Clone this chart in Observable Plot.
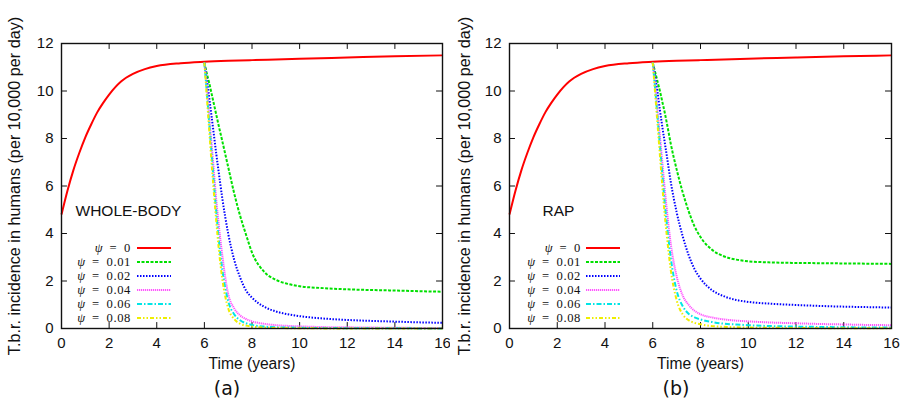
<!DOCTYPE html>
<html>
<head>
<meta charset="utf-8">
<script src="https://cdn.jsdelivr.net/npm/d3@7"></script>
<script src="https://cdn.jsdelivr.net/npm/@observablehq/plot@0.6"></script>
<style>
  html, body { margin: 0; padding: 0; background: #fff; }
  #wrap { position: relative; width: 907px; height: 408px; overflow: hidden; }
  .panel { position: absolute; top: 0; }
  .cap { position: absolute; top: 377px; width: 100px; text-align: center;
         font-family: "DejaVu Sans", sans-serif; font-size: 19px; color: #111; }
  [aria-label="y-axis label"] text { font-size: 16.2px; }
  [aria-label="x-axis label"] text { font-size: 15.6px; }
</style>
</head>
<body>
<div id="wrap">
  <div class="panel" id="pa" style="left:0px"></div>
  <div class="panel" id="pb" style="left:450px"></div>
  <div class="cap" style="left:177px">(a)</div>
  <div class="cap" style="left:626px">(b)</div>
</div>
<script>
// ---------- data ----------
const xTicks = [0, 2, 4, 6, 8, 10, 12, 14, 16];
const yTicks = [0, 2, 4, 6, 8, 10, 12];
const xLabel = "Time (years)";
const yLabel = "T.b.r. incidence in humans (per 10,000 per day)";
const panelNames = ["WHOLE-BODY", "RAP"];
const psiSymbol = "ψ";
const psiValues = ["0", "0.01", "0.02", "0.04", "0.06", "0.08"];

// psi = 0 (no control), same in both panels
const tRed = [0, 0.25, 0.5, 0.75, 1, 1.25, 1.5, 1.75, 2, 2.5, 3, 3.5, 4, 5, 6, 7, 8, 10, 12, 14, 16];
const incPsi0 = [4.8, 5.8, 6.67, 7.4, 8.05, 8.6, 9.1, 9.5, 9.85, 10.4, 10.72, 10.92, 11.05, 11.17, 11.23, 11.27, 11.3, 11.36, 11.41, 11.46, 11.5];

// control starts at t = 6
const tCtrl = [6, 6.1, 6.2, 6.3, 6.4, 6.5, 6.6, 6.75, 7, 7.25, 7.5, 7.75, 8, 8.5, 9, 9.5, 10, 11, 12, 13, 14, 15, 16];

// (a) WHOLE-BODY
const wbPsi001 = [11.2, 10.75, 10.35, 9.9, 9.45, 9.0, 8.55, 7.9, 6.8, 5.7, 4.75, 3.95, 3.2, 2.4, 2.05, 1.88, 1.78, 1.7, 1.65, 1.62, 1.6, 1.57, 1.55];
const wbPsi002 = [11.2, 10.5, 9.75, 8.95, 8.15, 7.35, 6.6, 5.5, 4.0, 2.9, 2.15, 1.6, 1.3, 0.92, 0.72, 0.6, 0.52, 0.42, 0.36, 0.32, 0.29, 0.26, 0.24];
const wbPsi004 = [11.2, 10.2, 9.0, 7.8, 6.6, 5.4, 4.4, 3.1, 1.45, 0.85, 0.55, 0.4, 0.3, 0.2, 0.14, 0.11, 0.09, 0.06, 0.05, 0.04, 0.03, 0.025, 0.02];
const wbPsi006 = [11.2, 10.0, 8.7, 7.4, 6.1, 4.9, 3.8, 2.5, 1.15, 0.6, 0.35, 0.22, 0.15, 0.08, 0.05, 0.04, 0.03, 0.02, 0.015, 0.01, 0.01, 0.005, 0.005];
const wbPsi008 = [11.2, 9.8, 8.4, 7.0, 5.7, 4.5, 3.4, 2.1, 0.85, 0.4, 0.2, 0.12, 0.08, 0.04, 0.02, 0.015, 0.01, 0.005, 0.005, 0.004, 0.003, 0.003, 0.002];

// (b) RAP
const rapPsi001 = [11.2, 10.8, 10.4, 10.0, 9.55, 9.1, 8.6, 7.8, 6.7, 5.75, 4.95, 4.3, 3.85, 3.3, 3.03, 2.9, 2.83, 2.78, 2.76, 2.75, 2.74, 2.73, 2.72];
const rapPsi002 = [11.2, 10.6, 9.95, 9.2, 8.5, 7.85, 7.2, 6.2, 4.9, 3.9, 3.1, 2.5, 2.1, 1.6, 1.35, 1.2, 1.12, 1.04, 0.99, 0.95, 0.92, 0.9, 0.88];
const rapPsi004 = [11.2, 10.3, 9.2, 8.1, 7.0, 5.9, 4.9, 3.6, 2.2, 1.4, 1.0, 0.75, 0.6, 0.46, 0.38, 0.33, 0.3, 0.25, 0.22, 0.19, 0.17, 0.15, 0.14];
const rapPsi006 = [11.2, 10.1, 8.9, 7.7, 6.5, 5.3, 4.3, 3.0, 1.6, 0.95, 0.62, 0.47, 0.38, 0.27, 0.2, 0.17, 0.14, 0.1, 0.08, 0.065, 0.05, 0.045, 0.04];
const rapPsi008 = [11.2, 9.9, 8.6, 7.3, 6.0, 4.8, 3.8, 2.5, 1.2, 0.6, 0.35, 0.24, 0.18, 0.1, 0.07, 0.05, 0.04, 0.03, 0.02, 0.015, 0.012, 0.01, 0.01];

// ---------- styles ----------
const styles = [
  {stroke: "#ff0000", dash: null,              width: 2},
  {stroke: "#00e000", dash: "3,1.5",           width: 2},
  {stroke: "#0000ff", dash: "1.5,1.5",         width: 2},
  {stroke: "#ff55ff", dash: "1.2,0.8",         width: 2},
  {stroke: "#00e6e6", dash: "5,2,1.5,2",       width: 2},
  {stroke: "#eeee00", dash: "4,2,1.5,2,1.5,2", width: 2}
];

function rows(ts, vs) { return ts.map((t, i) => ({t, v: vs[i]})); }

function legendMark(textEnd, sampleX1, sampleX2) {
  return (index, scales, values, dims) => {
    const g = d3.create("svg:g");
    const x0 = dims.marginLeft;
    const yb = dims.height - dims.marginBottom;
    psiValues.forEach((val, i) => {
      const y = yb - 80 + i * 14;
      const t = g.append("text")
        .attr("x", x0 + textEnd).attr("y", y).attr("dy", "0.35em")
        .attr("text-anchor", "end")
        .attr("font-family", "'Liberation Serif', 'DejaVu Serif', serif")
        .attr("font-size", 12.6).attr("fill", "#111");
      t.append("tspan").attr("font-style", "italic").text(psiSymbol);
      t.append("tspan").attr("letter-spacing", "0.6px").text("\u2002=\u2002" + val);
      const s = styles[i];
      g.append("line")
        .attr("x1", x0 + sampleX1).attr("x2", x0 + sampleX2)
        .attr("y1", y).attr("y2", y)
        .attr("stroke", s.stroke).attr("stroke-width", s.width)
        .attr("stroke-dasharray", s.dash);
    });
    return g.node();
  };
}

function panel({width, marginLeft, marginRight, series, name, nameDx, legendX}) {
  const all = [rows(tRed, incPsi0), ...series.map(s => rows(tCtrl, s))];
  return Plot.plot({
    width, height: 372,
    marginLeft, marginRight, marginTop: 43, marginBottom: 44,
    style: {fontFamily: "'Liberation Sans', Arial, sans-serif", fontSize: "15px", color: "#111", background: "#fff"},
    x: {domain: [0, 16]},
    y: {domain: [0, 12]},
    marks: [
      Plot.axisX(xTicks, {tickSize: 0, tickPadding: 9, fontSize: 15, label: xLabel, labelAnchor: "center", labelOffset: 40, labelArrow: "none"}),
      Plot.axisY(yTicks, {tickSize: 0, tickPadding: 8, fontSize: 15, label: yLabel, labelAnchor: "center", labelOffset: marginLeft - 8, labelArrow: "none"}),
      // inward mirrored ticks
      Plot.ruleX(xTicks, {x: d => d, y1: 0, y2: 0.25, stroke: "#111", strokeWidth: 1}),
      Plot.ruleX(xTicks, {x: d => d, y1: 12, y2: 11.75, stroke: "#111", strokeWidth: 1}),
      Plot.ruleY(yTicks, {y: d => d, x1: 0, x2: 0.25, stroke: "#111", strokeWidth: 1}),
      Plot.ruleY(yTicks, {y: d => d, x1: 16, x2: 15.75, stroke: "#111", strokeWidth: 1}),
      ...all.map((data, i) => Plot.line(data, {
        x: "t", y: "v", curve: "monotone-x",
        stroke: styles[i].stroke, strokeWidth: styles[i].width,
        strokeDasharray: styles[i].dash ?? undefined, strokeLinecap: "butt"
      })),
      Plot.frame({stroke: "#111", strokeWidth: 1.4}),
      Plot.text([name], {text: d => d, frameAnchor: "top-left", dx: nameDx, dy: 161, textAnchor: "start", fontSize: 15.5, fill: "#111"}),
      legendMark(legendX[0], legendX[1], legendX[2])
    ]
  });
}

document.getElementById("pa").appendChild(panel({
  width: 450, marginLeft: 61, marginRight: 8,
  series: [wbPsi001, wbPsi002, wbPsi004, wbPsi006, wbPsi008],
  name: panelNames[0], nameDx: 14, legendX: [70, 76, 110]
}));
document.getElementById("pb").appendChild(panel({
  width: 457, marginLeft: 59, marginRight: 16,
  series: [rapPsi001, rapPsi002, rapPsi004, rapPsi006, rapPsi008],
  name: panelNames[1], nameDx: 33, legendX: [72, 77, 111]
}));
</script>
</body>
</html>
